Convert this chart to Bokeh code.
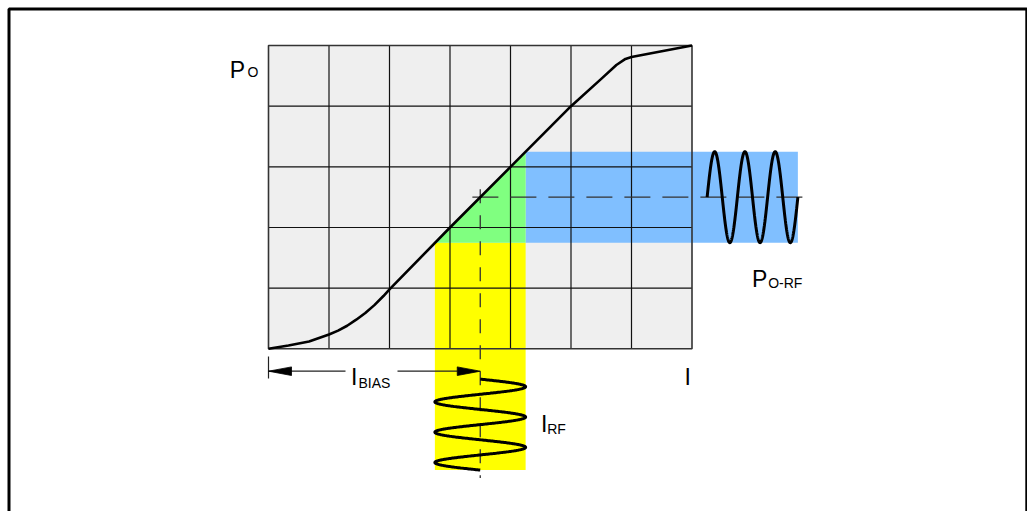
import numpy as np
from bokeh.plotting import figure
from bokeh.models import Range1d
from bokeh.core.properties import value
from bokeh.embed import file_html
from bokeh.resources import INLINE

# ---------------- data (grid units: one cell = 1) ----------------
curve_i = [0.0, 0.33, 0.67, 1.0, 1.15, 1.3, 1.45, 1.6, 1.75, 1.9, 2.0, 3.0, 4.0, 5.0, 5.5, 5.75, 5.9, 6.0, 6.5, 7.0]
curve_p = [0.0, 0.054, 0.12, 0.236, 0.3, 0.38, 0.48, 0.59, 0.72, 0.87, 0.98, 2.0, 3.0, 4.0, 4.45, 4.68, 4.78, 4.81, 4.905, 5.0]
grid_cols = [0, 1, 2, 3, 4, 5, 6, 7]
grid_rows = [0, 1, 2, 3, 4, 5]
i_bias = [3.5]          # bias current
i_rf_amp = [0.75]       # RF current amplitude
p_bias = [2.5]          # output power at bias
p_rf_amp = [0.75]       # RF output amplitude
rf_cycles = [3]
rf_period = [0.5]
i_wave_start = [-0.5]   # where the input RF drawing starts (below the plot)
p_wave_start = [7.25]   # where the output RF drawing starts (right of the plot)

label_main = ["P", "I", "I", "P", "I"]
label_sub = ["O", "BIAS", "RF", "O-RF"]

# ---------------- layout (pixel geometry) ----------------
W, H = 1027, 511
WIN_L, WIN_T = 0, 0
GX0, GY0 = 268.0, 348.3       # window pixel of grid origin
CX, CY = 60.5, 60.65           # pixel size of a cell


def ux(px):
    return (px - GX0) / CX


def vy(py):
    return (GY0 - py) / CY


p = figure(width=W, height=H, output_backend="svg", toolbar_location=None,
           x_range=Range1d(ux(WIN_L), ux(WIN_L + W)),
           y_range=Range1d(vy(WIN_T + H), vy(WIN_T)),
           min_border=0, background_fill_color="white", border_fill_color="white")
p.axis.visible = False
p.grid.visible = False
p.outline_line_color = None

ib, ia = i_bias[0], i_rf_amp[0]
pb, pa = p_bias[0], p_rf_amp[0]
ncyc, per = rf_cycles[0], rf_period[0]
span = ncyc * per

# grid background
p.quad(left=[grid_cols[0]], right=[grid_cols[-1]], bottom=[grid_rows[0]], top=[grid_rows[-1]],
       fill_color="#efefef", line_color=None)

# yellow (input current swing)
i_wave_end = i_wave_start[0] - span
p.quad(left=[ib - ia], right=[ib + ia], bottom=[i_wave_end], top=[pb - pa],
       fill_color="#ffff00", line_color=None)
# blue (output power swing)
p_wave_end = p_wave_start[0] + span
p.quad(left=[ib + ia], right=[p_wave_end], bottom=[pb - pa], top=[pb + pa],
       fill_color="#80bfff", line_color=None)
# green overlap under the curve
p.patch(x=[ib - ia, ib + ia, ib + ia], y=[pb - pa, pb - pa, pb + pa],
        fill_color="#80ff80", line_color=None)

# grid lines
inner_c = grid_cols[1:-1]
inner_r = grid_rows[1:-1]
p.segment(x0=inner_c, x1=inner_c, y0=[grid_rows[0]] * len(inner_c), y1=[grid_rows[-1]] * len(inner_c),
          line_color="#111111", line_width=1.2)
p.segment(x0=[grid_cols[0]] * len(inner_r), x1=[grid_cols[-1]] * len(inner_r), y0=inner_r, y1=inner_r,
          line_color="#111111", line_width=1.2)
p.quad(left=[grid_cols[0]], right=[grid_cols[-1]], bottom=[grid_rows[0]], top=[grid_rows[-1]],
       fill_color=None, line_color="#333333", line_width=1.6)

# dashed guides
p.line(x=[ib, ib], y=[pb + 0.13, i_wave_end - 0.13], line_color="#333333", line_width=1.3,
       line_dash="14 12", line_dash_offset=0)
p.line(x=[ib - 0.13, p_wave_end + 0.08], y=[pb, pb], line_color="#333333", line_width=1.3,
       line_dash="26 12", line_dash_offset=0)

# transfer curve
p.line(x=curve_i, y=curve_p, line_color="black", line_width=2.6, line_join="round")

# input RF sine
t = np.linspace(0, 1, 600)
p.line(x=ib + ia * np.sin(2 * np.pi * ncyc * t), y=i_wave_start[0] - span * t,
       line_color="black", line_width=3)
# output RF sine
p.line(x=p_wave_start[0] + span * t, y=pb + pa * np.sin(2 * np.pi * ncyc * t),
       line_color="black", line_width=3)

# I_BIAS arrow
ay = vy(370.7)
hl = ux(291) - ux(268)
p.segment(x0=[0, ux(397)], x1=[ux(345), ib - hl], y0=[ay, ay], y1=[ay, ay],
          line_color="#222222", line_width=1.2)
p.segment(x0=[0], x1=[0], y0=[vy(356)], y1=[vy(378)], line_color="#222222", line_width=1.2)
hw = 4.3 / CY
p.patches(xs=[[0, hl, hl], [ib, ib - hl, ib - hl]],
          ys=[[ay, ay + hw, ay - hw], [ay, ay + hw, ay - hw]],
          fill_color="black", line_color="black", line_width=0.8)

# frame (left, top, right)
fx0, fx1, fy1 = ux(8.5), ux(1026.3), vy(8.5)
fyb = vy(WIN_T + H + 20)
p.line(x=[fx0, fx0, fx1, fx1], y=[fyb, fy1, fy1, fyb], line_color="black", line_width=3)

# labels
FONT = value("Liberation Sans")
main_pos = [(229.2, 69.3), (350.6, 376.7), (540.6, 423.3), (751.5, 278.3), (683.9, 376.7)]
sub_pos = [(246.9, 71.5), (358.0, 382.7), (546.7, 428.3), (767.7, 282.5)]
p.text(x=[ux(a) for a, b in main_pos], y=[vy(b) for a, b in main_pos], text=label_main,
       text_font=FONT, text_font_size=value("23px"), text_baseline="alphabetic",
       text_align="left", text_color="black")
p.text(x=[ux(a) for a, b in sub_pos], y=[vy(b) for a, b in sub_pos], text=label_sub,
       text_font=FONT, text_font_size=value("14px"), text_baseline="alphabetic",
       text_align="left", text_color="black")

open("out.html", "w").write(file_html(p, INLINE))
